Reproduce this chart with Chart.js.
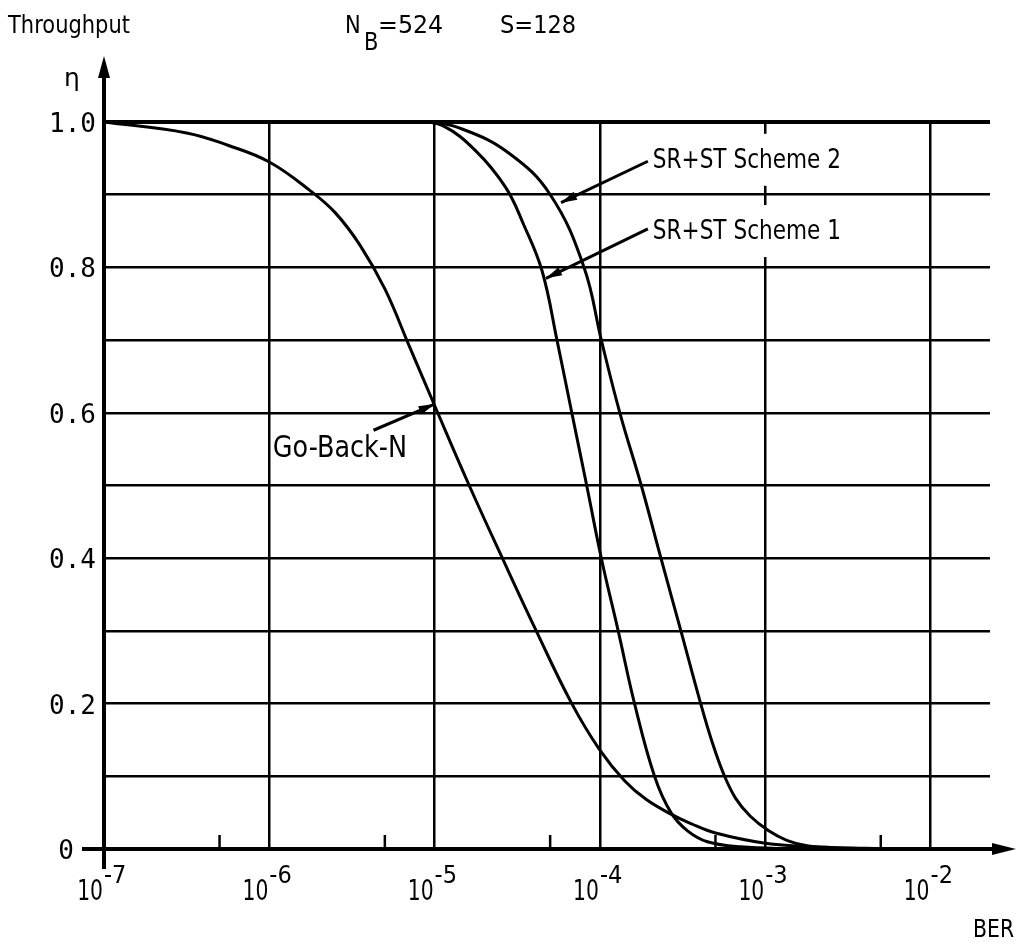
<!DOCTYPE html>
<html>
<head>
<meta charset="utf-8">
<script src="https://cdn.jsdelivr.net/npm/chart.js@4.4.1/dist/chart.umd.min.js"></script>
<style>
  html, body { margin: 0; padding: 0; background: #fff; }
</style>
</head>
<body>
<canvas id="throughputChart" width="1020" height="944"></canvas>
<script>
// Throughput eta vs bit error rate, N_B=524, S=128
const gbnBer  = [1e-7, 3.16e-7, 5.62e-7, 1e-6, 1.78e-6, 2.51e-6, 3.55e-6, 5.01e-6, 7.08e-6, 1e-5, 1.62e-5, 2.57e-5,
                 4.12e-5, 6.76e-5, 1e-4, 1.41e-4, 1.91e-4, 2.69e-4, 3.55e-4, 5.01e-4, 1e-3, 2e-3, 3.98e-3, 7.94e-3];
const gbnEta  = [1.0, 0.985, 0.968, 0.945, 0.905, 0.875, 0.83, 0.77, 0.69, 0.61, 0.50, 0.40,
                 0.30, 0.20, 0.136, 0.094, 0.068, 0.048, 0.035, 0.022, 0.008, 0.003, 0.001, 0];

const sr1Ber  = [1e-7, 7.94e-6, 1.12e-5, 1.78e-5, 2.69e-5, 3.47e-5, 4.47e-5, 5.50e-5, 6.76e-5, 8.32e-5,
                 1.02e-4, 1.29e-4, 1.62e-4, 2.14e-4, 2.69e-4, 3.39e-4, 4.47e-4, 7.08e-4, 1.58e-3];
const sr1Eta  = [1.0, 1.0, 0.995, 0.96, 0.91, 0.858, 0.795, 0.70, 0.60, 0.50,
                 0.40, 0.30, 0.20, 0.10, 0.05, 0.025, 0.01, 0.003, 0];

const sr2Ber  = [1e-7, 8.91e-6, 1.48e-5, 2.82e-5, 5.01e-5, 8.02e-5, 1.02e-4, 1.32e-4, 1.78e-4, 2.34e-4,
                 3.09e-4, 4.07e-4, 4.73e-4, 5.56e-4, 6.61e-4, 8.13e-4, 1.05e-3, 1.35e-3, 1.82e-3, 2.82e-3];
const sr2Eta  = [1.0, 1.0, 0.99, 0.957, 0.90, 0.80, 0.70, 0.60, 0.50, 0.40,
                 0.30, 0.20, 0.15, 0.105, 0.07, 0.045, 0.025, 0.012, 0.004, 0];

const xTickValues = [1e-7, 1e-6, 1e-5, 1e-4, 1e-3, 1e-2];
const xTickExps   = ['-7', '-6', '-5', '-4', '-3', '-2'];
const xMinorTicks = [5e-7, 5e-6, 5e-5, 5e-4, 5e-3];
const yTickValues = [0, 0.2, 0.4, 0.6, 0.8, 1.0];
const yTickLabels = ['0', '0.2', '0.4', '0.6', '0.8', '1.0'];

// curve labels with leader lines (data coordinates)
const curveNotes = [
  { text: 'Go-Back-N',      at: [1.05e-6, 0.539], from: [4.27e-6, 0.576], to: [1e-5, 0.612],    size: 30, sx: 0.85, box: false },
  { text: 'SR+ST Scheme 1', at: [2.09e-4, 0.839], from: [1.95e-4, 0.853], to: [4.72e-5, 0.785], size: 27, sx: 0.8, box: true },
  { text: 'SR+ST Scheme 2', at: [2.09e-4, 0.937], from: [1.95e-4, 0.946], to: [5.82e-5, 0.889], size: 27, sx: 0.8, box: true }
];

const toXY = (xs, ys) => xs.map((x, i) => ({ x: x, y: ys[i] }));

function drawText(ctx, str, x, y, size, sx, align, family) {
  ctx.save();
  ctx.translate(x, y);
  ctx.scale(sx, 1);
  ctx.font = size + 'px ' + (family || '"DejaVu Sans", sans-serif');
  ctx.textAlign = align || 'left';
  ctx.textBaseline = 'alphabetic';
  ctx.fillStyle = '#000';
  ctx.fillText(str, 0, 0);
  ctx.restore();
}

function arrowHead(ctx, x0, y0, x1, y1, len, half) {
  const a = Math.atan2(y1 - y0, x1 - x0);
  ctx.beginPath();
  ctx.moveTo(x1, y1);
  ctx.lineTo(x1 - len * Math.cos(a) + half * Math.sin(a), y1 - len * Math.sin(a) - half * Math.cos(a));
  ctx.lineTo(x1 - len * Math.cos(a) - half * Math.sin(a), y1 - len * Math.sin(a) + half * Math.cos(a));
  ctx.closePath();
  ctx.fill();
}

const decorations = {
  id: 'decorations',
  beforeDatasetsDraw(chart) {
    // white patches behind the scheme labels (the grid is broken there in the original)
    const ctx = chart.ctx, xs = chart.scales.x, ys = chart.scales.y;
    ctx.save();
    curveNotes.forEach(n => {
      if (!n.box) return;
      ctx.font = n.size + 'px "DejaVu Sans", sans-serif';
      const w = ctx.measureText(n.text).width * n.sx;
      const px = xs.getPixelForValue(n.at[0]), py = ys.getPixelForValue(n.at[1]);
      ctx.fillStyle = '#fff';
      ctx.fillRect(px - 6, py - 34, w + 12, 52);
    });
    ctx.restore();
  },
  afterDraw(chart) {
    const ctx = chart.ctx, xs = chart.scales.x, ys = chart.scales.y;
    const a = chart.chartArea;
    ctx.save();
    ctx.strokeStyle = '#000';
    ctx.fillStyle = '#000';
    ctx.lineCap = 'butt';

    // y axis with arrow
    ctx.lineWidth = 4;
    ctx.beginPath();
    ctx.moveTo(a.left, a.bottom + 20);
    ctx.lineTo(a.left, 74);
    ctx.stroke();
    arrowHead(ctx, a.left, 100, a.left, 56, 22, 6);

    // x axis with arrow, zero tick pokes out to the left
    ctx.beginPath();
    ctx.moveTo(a.left - 22, a.bottom);
    ctx.lineTo(a.right + 8, a.bottom);
    ctx.stroke();
    arrowHead(ctx, a.right - 20, a.bottom, a.right + 26, a.bottom, 24, 6);

    // minor ticks at 5 x 10^n
    ctx.lineWidth = 2.5;
    xMinorTicks.forEach(v => {
      const px = xs.getPixelForValue(v);
      ctx.beginPath();
      ctx.moveTo(px, a.bottom);
      ctx.lineTo(px, a.bottom - 14);
      ctx.stroke();
    });

    // x tick labels 10^n
    xTickValues.forEach((v, i) => {
      const px = xs.getPixelForValue(v);
      drawText(ctx, '10', px - 1, a.bottom + 51, 29, 0.7, 'right');
      drawText(ctx, xTickExps[i], px, a.bottom + 34, 25, 0.9, 'left');
    });

    // y tick labels
    yTickValues.forEach((v, i) => {
      const py = ys.getPixelForValue(v);
      const right = v === 0 ? a.left - 30 : a.left - 8;
      drawText(ctx, yTickLabels[i], right, py + 10, 26, 1.0, 'right', '"DejaVu Sans Mono", monospace');
    });

    // titles
    drawText(ctx, 'Throughput', 8, 33, 25, 0.84, 'left');
    drawText(ctx, 'N', 345, 33, 25, 0.84, 'left');
    drawText(ctx, 'B', 364, 50, 25, 0.84, 'left');
    drawText(ctx, '=524', 378, 33, 25, 0.95, 'left');
    drawText(ctx, 'S=128', 500, 33, 25, 0.9, 'left');
    drawText(ctx, 'η', 64, 86, 25, 1.0, 'left');
    drawText(ctx, 'BER', 973, 937, 24, 0.85, 'left');

    // curve labels and leader arrows
    curveNotes.forEach(n => {
      drawText(ctx, n.text, xs.getPixelForValue(n.at[0]), ys.getPixelForValue(n.at[1]), n.size, n.sx, 'left');
      const x0 = xs.getPixelForValue(n.from[0]), y0 = ys.getPixelForValue(n.from[1]);
      const x1 = xs.getPixelForValue(n.to[0]), y1 = ys.getPixelForValue(n.to[1]);
      ctx.lineWidth = 3;
      ctx.beginPath();
      ctx.moveTo(x0, y0);
      ctx.lineTo(x1, y1);
      ctx.stroke();
      arrowHead(ctx, x0, y0, x1, y1, 16, 4.5);
    });
    ctx.restore();
  }
};

const curveStyle = {
  borderColor: '#000',
  borderWidth: 3,
  pointRadius: 0,
  showLine: true,
  fill: false,
  tension: 0.4,
  clip: false
};

const ctx = document.getElementById('throughputChart').getContext('2d');
const throughputChart = new Chart(ctx, {
  type: 'scatter',
  data: {
    datasets: [
      Object.assign({ label: 'Go-Back-N', data: toXY(gbnBer, gbnEta) }, curveStyle),
      Object.assign({ label: 'SR+ST Scheme 1', data: toXY(sr1Ber, sr1Eta) }, curveStyle),
      Object.assign({ label: 'SR+ST Scheme 2', data: toXY(sr2Ber, sr2Eta) }, curveStyle)
    ]
  },
  options: {
    responsive: false,
    devicePixelRatio: 1,
    animation: false,
    layout: { padding: { left: 104, top: 122, right: 30, bottom: 95 } },
    plugins: { legend: { display: false }, tooltip: { enabled: false } },
    scales: {
      x: {
        type: 'logarithmic',
        min: 1e-7,
        max: 0.0229,
        afterBuildTicks: scale => { scale.ticks = xTickValues.map(v => ({ value: v })); },
        afterFit: scale => { scale.height = 0; },
        ticks: { display: false },
        border: { display: false },
        grid: { color: '#000', lineWidth: 2.5, drawTicks: false }
      },
      y: {
        min: 0,
        max: 1,
        afterFit: scale => { scale.width = 0; },
        ticks: { display: false, stepSize: 0.1 },
        border: { display: false },
        grid: {
          color: '#000',
          lineWidth: c => (c.tick && c.tick.value === 1 ? 4 : 2.5),
          drawTicks: false
        }
      }
    }
  },
  plugins: [decorations]
});
</script>
</body>
</html>
